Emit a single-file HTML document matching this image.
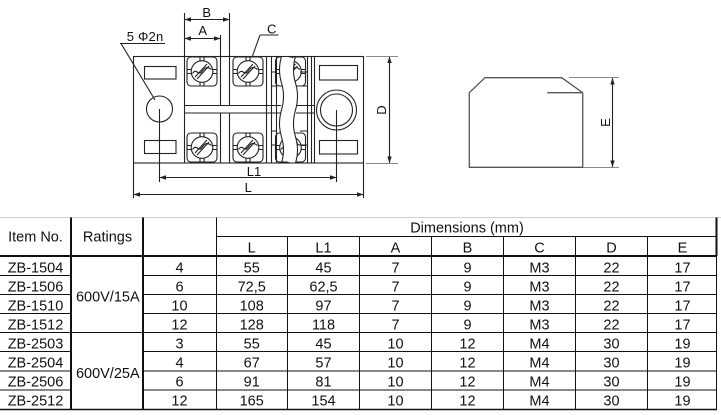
<!DOCTYPE html>
<html><head><meta charset="utf-8"><style>
html,body{margin:0;padding:0;background:#fff;}
svg{display:block;}
text{font-family:"Liberation Sans",Arial,sans-serif;fill:#111;}
</style></head><body>
<svg width="721" height="415" viewBox="0 0 721 415" xmlns="http://www.w3.org/2000/svg">
<rect width="721" height="415" fill="#fff"/>
<defs>
 <g id="blk" fill="none" stroke="#222" stroke-width="1.1">
  <rect x="0.5" y="0.5" width="30" height="29" rx="4"/>
  <circle cx="15.5" cy="15" r="10.8"/>
  <path d="M13.5,0.5V4.5 M17.5,0.5V4.5 M13.5,25.5V29.5 M17.5,25.5V29.5 M0.5,13H5 M0.5,17H5 M26,13H30.5 M26,17H30.5"/>
  <path d="M8.5,20.5 L20.5,7.5 M10.5,22.5 L22.5,9.5"/>
  <path d="M6,17 C10,11 12,20 15.5,15 S21,10 25,13"/>
 </g>
</defs>

<!-- front view -->
<g fill="none" stroke="#222" stroke-width="1.1">
 <rect x="133.5" y="56.5" width="230" height="106.5"/>
 <rect x="144.5" y="66.5" width="31.5" height="12.5"/>
 <rect x="144.5" y="140.5" width="31.5" height="13"/>
 <circle cx="159.5" cy="109" r="13"/>
 <rect x="319.5" y="65.5" width="38" height="14.5"/>
 <rect x="319.5" y="140.5" width="38" height="13.5"/>
 <circle cx="336.5" cy="110" r="20"/>
 <circle cx="336.5" cy="110" r="16"/>
 <path d="M184.5,13V163 M220.5,35V105.5 M220.5,113V163 M229.5,13V105.5 M229.5,113V163 M266.5,56.5V163 M271.5,56.5V163 M276.5,56.5V163 M307.5,56.5V163 M311.5,56.5V163 M314.5,56.5V163"/>
 <path d="M184.5,105.5H281 M184.5,113H281 M296,105.5H314.5 M296,113H314.5"/>
</g>
<use href="#blk" x="186.5" y="56.5"/>
<use href="#blk" x="232.5" y="56.5"/>
<use href="#blk" x="186.5" y="132.5"/>
<use href="#blk" x="232.5" y="132.5"/>
<use href="#blk" x="275" y="56.5"/>
<use href="#blk" x="275" y="132.5"/>
<g fill="none" stroke="#222" stroke-width="1">
 <path d="M271.5,72H276.5 M271.5,86H276.5 M271.5,131H276.5 M271.5,145H276.5 M300,72H307.5 M300,86H307.5 M300,131H307.5 M300,145H307.5"/>
</g>
<path d="M288.5,57 Q284.5,70 288.5,83 T288.5,110 T288.5,137 T288.5,162" fill="none" stroke="#fff" stroke-width="13.5"/>
<g fill="none" stroke="#222" stroke-width="1.1">
 <path d="M281.5,56.5 Q277.5,70 281.5,83 T281.5,110 T281.5,137 T281.5,163"/>
 <path d="M295.5,56.5 Q291.5,70 295.5,83 T295.5,110 T295.5,137 T295.5,163"/>
 <path d="M133.5,56.5H363.5"/>
 <path d="M133.5,163H363.5"/>
 <path d="M120,43.5H165 M121,43.5L155,100"/>
 <path d="M260,35H278.5 M260,35L252.5,56"/>
 <path d="M159.5,109V182 M336.5,110V182"/>
 <path d="M184.5,19.5H229.5 M184.5,38.5H220.5 M159.5,177.5H336.5 M133.5,194.5H363.5 M133.5,163V198 M363.5,163V198 M389.5,56.5V163"/>
</g>
<g fill="none" stroke="#888" stroke-width="1">
 <path d="M366,56.5H398 M366,163.5H398"/>
 <path d="M569,77.5H619 M583,167.5H619"/>
</g>
<g fill="#222">
 <polygon points="184.5,19.5 191,17.3 191,21.7"/>
 <polygon points="229.5,19.5 223,17.3 223,21.7"/>
 <polygon points="184.5,38.5 191,36.3 191,40.7"/>
 <polygon points="220.5,38.5 214,36.3 214,40.7"/>
 <polygon points="159.5,177.5 166,175.3 166,179.7"/>
 <polygon points="336.5,177.5 330,175.3 330,179.7"/>
 <polygon points="133.5,194.5 140,192.3 140,196.7"/>
 <polygon points="363.5,194.5 357,192.3 357,196.7"/>
 <polygon points="389.5,56.5 387.3,63 391.7,63"/>
 <polygon points="389.5,163 387.3,156.5 391.7,156.5"/>
 <polygon points="612.5,78 610.3,84.5 614.7,84.5"/>
 <polygon points="612.5,167 610.3,160.5 614.7,160.5"/>
</g>
<path d="M612.5,78V167" stroke="#222" stroke-width="1.1" fill="none"/>
<g fill="none" stroke="#555" stroke-width="1.3">
 <polygon points="469.3,92.7 485,77.7 561.7,77.7 582.7,92.7 582.7,167.3 469.3,167.3"/>
 <path d="M547.3,92.7H582.7"/>
</g>
<g font-size="13" text-anchor="middle">
 <text x="206.7" y="16.9">B</text>
 <text x="202.7" y="35.2">A</text>
 <text x="271.7" y="33.5">C</text>
 <text x="254" y="175.9">L1</text>
 <text x="248.3" y="191.9">L</text>
 <text transform="translate(385.8,110) rotate(-90)">D</text>
 <text transform="translate(610,122.5) rotate(-90)">E</text>
</g>
<text x="126.7" y="40.9" font-size="13" textLength="36.5" lengthAdjust="spacing">5 Φ2n</text>

<!-- table -->
<path d="M0,217.5H721" stroke="#d0d0d0" stroke-width="1"/>
<g fill="none" stroke="#111" stroke-width="1">
 <path d="M216,236.5H717"/>
 <path d="M0,275.5H71 M143,275.5H717 M0,294.5H71 M143,294.5H717 M0,313.5H71 M143,313.5H717 M0,332.5H717 M0,351.5H71 M143,351.5H717 M0,371H71 M143,371H717 M0,390H71 M143,390H717"/>
 <path d="M0,409.5H717" stroke-width="1.5"/>
 <path d="M0,256H717" stroke-width="2"/>
 <path d="M71,217.5V410 M143,217.5V410" stroke-width="2"/>
 <path d="M716.5,217.5V256" stroke-width="2"/>
 <path d="M716.5,256V410"/>
 <path d="M216.5,217.5V410 M287.5,236.5V410 M359.5,236.5V410 M431.5,236.5V410 M503.5,236.5V410 M575.5,236.5V410 M647.5,236.5V410"/>
</g>
<g font-size="14.5" text-anchor="middle">
 <text x="35.5" y="241.7">Item No.</text>
 <text x="107.5" y="241.7">Ratings</text>
 <text x="467" y="232.5">Dimensions (mm)</text>
 <text x="251.7" y="252.3">L</text>
 <text x="323.5" y="252.3">L1</text>
 <text x="395.5" y="252.3">A</text>
 <text x="467.5" y="252.3">B</text>
 <text x="539.5" y="252.3">C</text>
 <text x="611.5" y="252.3">D</text>
 <text x="682.5" y="252.3">E</text>
 <text x="107.8" y="301.5">600V/15A</text>
 <text x="107.8" y="378">600V/25A</text>

 <text x="35.5" y="272.5">ZB-1504</text><text x="179.5" y="272.5">4</text><text x="251.7" y="272.5">55</text><text x="323.5" y="272.5">45</text><text x="395.5" y="272.5">7</text><text x="467.5" y="272.5">9</text><text x="539.5" y="272.5">M3</text><text x="611.5" y="272.5">22</text><text x="682.5" y="272.5">17</text>
 <text x="35.5" y="291.5">ZB-1506</text><text x="179.5" y="291.5">6</text><text x="251.7" y="291.5">72,5</text><text x="323.5" y="291.5">62,5</text><text x="395.5" y="291.5">7</text><text x="467.5" y="291.5">9</text><text x="539.5" y="291.5">M3</text><text x="611.5" y="291.5">22</text><text x="682.5" y="291.5">17</text>
 <text x="35.5" y="310.5">ZB-1510</text><text x="179.5" y="310.5">10</text><text x="251.7" y="310.5">108</text><text x="323.5" y="310.5">97</text><text x="395.5" y="310.5">7</text><text x="467.5" y="310.5">9</text><text x="539.5" y="310.5">M3</text><text x="611.5" y="310.5">22</text><text x="682.5" y="310.5">17</text>
 <text x="35.5" y="329.3">ZB-1512</text><text x="179.5" y="329.3">12</text><text x="251.7" y="329.3">128</text><text x="323.5" y="329.3">118</text><text x="395.5" y="329.3">7</text><text x="467.5" y="329.3">9</text><text x="539.5" y="329.3">M3</text><text x="611.5" y="329.3">22</text><text x="682.5" y="329.3">17</text>
 <text x="35.5" y="348.3">ZB-2503</text><text x="179.5" y="348.3">3</text><text x="251.7" y="348.3">55</text><text x="323.5" y="348.3">45</text><text x="395.5" y="348.3">10</text><text x="467.5" y="348.3">12</text><text x="539.5" y="348.3">M4</text><text x="611.5" y="348.3">30</text><text x="682.5" y="348.3">19</text>
 <text x="35.5" y="367.3">ZB-2504</text><text x="179.5" y="367.3">4</text><text x="251.7" y="367.3">67</text><text x="323.5" y="367.3">57</text><text x="395.5" y="367.3">10</text><text x="467.5" y="367.3">12</text><text x="539.5" y="367.3">M4</text><text x="611.5" y="367.3">30</text><text x="682.5" y="367.3">19</text>
 <text x="35.5" y="386.3">ZB-2506</text><text x="179.5" y="386.3">6</text><text x="251.7" y="386.3">91</text><text x="323.5" y="386.3">81</text><text x="395.5" y="386.3">10</text><text x="467.5" y="386.3">12</text><text x="539.5" y="386.3">M4</text><text x="611.5" y="386.3">30</text><text x="682.5" y="386.3">19</text>
 <text x="35.5" y="405.3">ZB-2512</text><text x="179.5" y="405.3">12</text><text x="251.7" y="405.3">165</text><text x="323.5" y="405.3">154</text><text x="395.5" y="405.3">10</text><text x="467.5" y="405.3">12</text><text x="539.5" y="405.3">M4</text><text x="611.5" y="405.3">30</text><text x="682.5" y="405.3">19</text>
</g>
</svg>
</body></html>
